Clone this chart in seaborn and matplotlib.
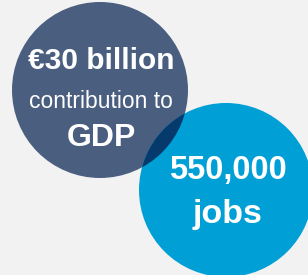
import matplotlib
matplotlib.use('Agg')
import matplotlib.pyplot as plt
import seaborn as sns
from matplotlib.patches import Circle

# circle data (pixel coordinates of the 308x275 canvas)
centers_x = [100, 226]
centers_y = [90, 190]
radii = [88, 87]
circle_colors = ['#4a5e80', '#009fd6']
overlap_color = '#063a6c'

# labels inside each circle: text, weight, size, x, y
labels = [
    ('€30 billion', 'bold', 21.5, 101, 61),
    ('contribution to', 'normal', 16.5, 101, 101),
    ('GDP', 'bold', 23, 101, 138),
    ('550,000', 'bold', 23.5, 228, 170),
    ('jobs', 'bold', 24.5, 228, 214),
]

sns.set_theme(style='white')
plt.rcParams['font.family'] = ['Liberation Sans', 'DejaVu Sans']

fig = plt.figure(figsize=(3.08, 2.75), dpi=100, facecolor='#f2f2f2')
ax = fig.add_axes([0, 0, 1, 1])
ax.set_facecolor('#f2f2f2')
ax.set_xlim(0, 308)
ax.set_ylim(275, 0)
ax.axis('off')

circles = []
for x, y, r, c in zip(centers_x, centers_y, radii, circle_colors):
    p = Circle((x, y), r, color=c, lw=0)
    ax.add_patch(p)
    circles.append(p)

# darker overlap region
ov = Circle((centers_x[1], centers_y[1]), radii[1], color=overlap_color, lw=0)
ax.add_patch(ov)
ov.set_clip_path(circles[0])

for txt, weight, size, x, y in labels:
    ax.text(x, y, txt, ha='center', va='center', color='white',
            fontsize=size, fontweight=weight)

fig.savefig('out.png', dpi=100, facecolor=fig.get_facecolor())
